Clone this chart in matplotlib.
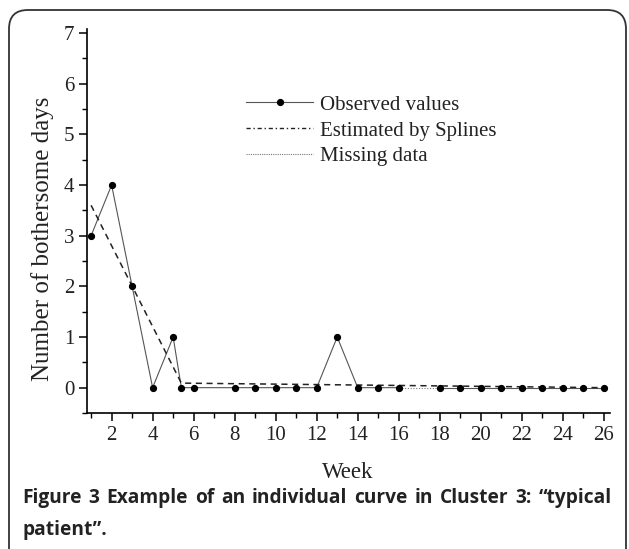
import matplotlib
matplotlib.use("Agg")
import matplotlib.pyplot as plt
from matplotlib.patches import FancyBboxPatch
from matplotlib.lines import Line2D

# ── Data ──────────────────────────────────────────
weeks_a  = [1, 2, 3, 4, 5, 5.4, 6, 8, 9, 10, 11, 12, 13, 14, 15, 16]
values_a = [3, 4, 2, 0, 1, 0, 0, 0, 0, 0, 0, 0, 1, 0, 0, 0]
weeks_b  = [18, 19, 20, 21, 22, 23, 24, 25, 26]
values_b = [0, 0, 0, 0, 0, 0, 0, 0, 0]
missing_weeks  = [16, 18]
missing_values = [0, 0]
spline_weeks  = [1, 5.4, 26]
spline_values = [3.6, 0.09, 0.0]

x_ticks = [2, 4, 6, 8, 10, 12, 14, 16, 18, 20, 22, 24, 26]
y_ticks = [0, 1, 2, 3, 4, 5, 6, 7]

caption_lines = ["Figure 3 Example of an individual curve in Cluster 3: \u201ctypical",
                 "patient\u201d."]

serif = ["Liberation Serif", "DejaVu Serif"]

fig = plt.figure(figsize=(6.29, 5.49), dpi=100)

# ── Rounded frame ─────────────────────────────────
frame = FancyBboxPatch((9 / 629, -0.05), 617 / 629, 1 - 10 / 549 + 0.05,
                       boxstyle="round,pad=0,rounding_size=0.03",
                       transform=fig.transFigure, fill=False,
                       ec="#333333", lw=1.3, mutation_aspect=629 / 549)
fig.patches.append(frame)

ax = fig.add_axes([87 / 629, 1 - 413 / 549, (610 - 87) / 629, (413 - 29) / 549])

ax.plot(weeks_a, values_a, color="#555555", lw=0.8)
ax.plot(weeks_b, values_b, color="#555555", lw=0.8)
ax.plot(missing_weeks, missing_values, color="#777777", lw=0.8, ls=(0, (1, 1.5)))
ax.plot(spline_weeks, spline_values, color="#222222", lw=1.1, ls=(0, (4, 3)))
ax.plot(weeks_a, values_a, "o", color="black", ms=4.2, ls="none")
ax.plot(weeks_b, values_b, "o", color="black", ms=4.2, ls="none")

ax.set_xlim(0.8, 26.3)
ax.set_ylim(-0.5, 7.08)
ax.set_xticks(x_ticks)
ax.set_xticks(range(1, 27), minor=True)
ax.set_yticks(y_ticks)
ax.set_yticks([v + 0.5 for v in range(-1, 7)], minor=True)

for s in ["top", "right"]:
    ax.spines[s].set_visible(False)
for s in ["left", "bottom"]:
    ax.spines[s].set_linewidth(1.2)

ax.tick_params(which="major", length=6, width=1.1, direction="out")
ax.tick_params(which="minor", length=3.5, width=1.0, direction="out")
ax.tick_params(labelsize=15, pad=3)
for lab in ax.get_xticklabels() + ax.get_yticklabels():
    lab.set_fontfamily(serif)
    lab.set_color("#222222")

ax.set_xlabel("Week", fontsize=16.5, family=serif, color="#222222")
ax.xaxis.set_label_coords(0.499, -0.128)
ax.set_ylabel("Number of bothersome days", fontsize=18, family=serif,
              color="#222222", va="center")
ax.yaxis.set_label_coords(-0.086, 0.453)

# ── Legend ────────────────────────────────────────
handles = [
    Line2D([], [], color="#555555", lw=0.8, marker="o", ms=4.2,
           mfc="black", mec="black"),
    Line2D([], [], color="#222222", lw=1.0, ls=(0, (3, 2, 1, 2))),
    Line2D([], [], color="#777777", lw=0.8, ls=(0, (1, 1))),
]
labels = ["Observed values", "Estimated by Splines", "Missing data"]
leg = ax.legend(handles, labels, loc="upper left", bbox_to_anchor=(0.285, 0.855),
                frameon=False, prop={"family": serif, "size": 15},
                handlelength=3.2, handletextpad=0.35, labelspacing=0.3,
                borderpad=0)
for t in leg.get_texts():
    t.set_color("#222222")

# ── Caption (first line justified to the frame width) ─
cap_font = ["Open Sans", "DejaVu Sans"]
cap_kw = dict(fontsize=13.8, fontweight="bold", family=cap_font,
              color="#222222", va="baseline")
left_px, right_px = 22, 612
renderer = fig.canvas.get_renderer()
words = caption_lines[0].split(" ")
texts = [fig.text(0, 1 - 503 / 549, w, **cap_kw) for w in words]
widths = [t.get_window_extent(renderer).width for t in texts]
gap = (right_px - left_px - sum(widths)) / (len(words) - 1)
x = left_px
for t, w in zip(texts, widths):
    t.set_x(x / 629)
    x += w + gap
fig.text(left_px / 629, 1 - 535 / 549, caption_lines[1], **cap_kw)

fig.savefig("out.png", dpi=100)
